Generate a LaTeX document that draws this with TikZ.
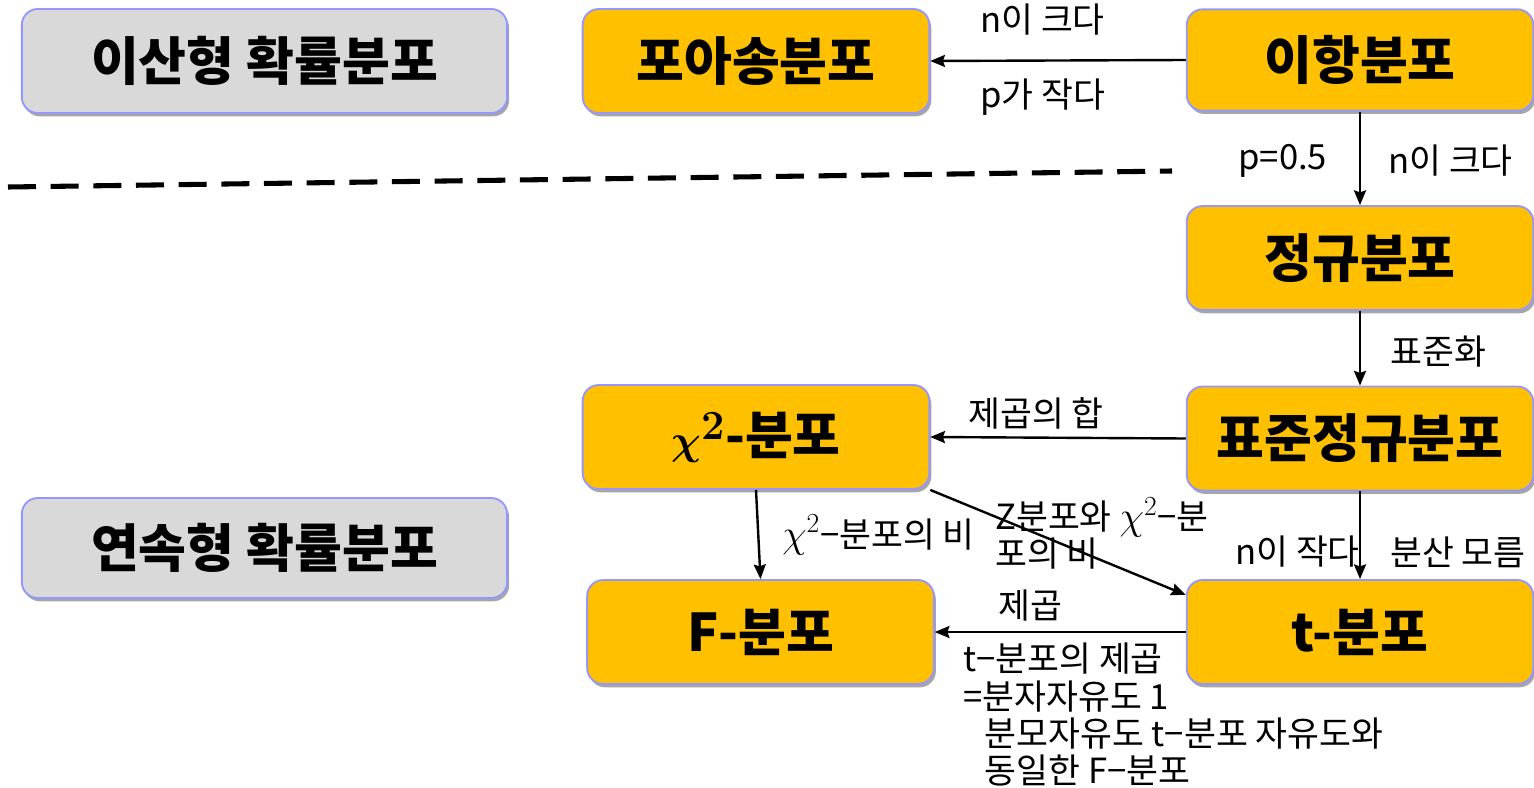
\documentclass[tikz,border=0pt]{standalone}
\usepackage{fontspec}
\usepackage{bm}
\setmainfont{Noto Sans CJK KR}
\usetikzlibrary{arrows.meta,shadows,calc}
\definecolor{boxorange}{RGB}{255,192,0}
\definecolor{boxgray}{RGB}{217,217,217}
\definecolor{boxedge}{RGB}{150,150,255}
\newcommand{\chisq}{\scalebox{1.2}{$\chi^{2}$}}
\newcommand{\chisqb}{\scalebox{1.25}{$\bm{\chi^{2}}$}}
\tikzset{
  basebox/.style={draw=boxedge, line width=1.4pt, rounded corners=12pt,
    minimum width=260pt, minimum height=78pt, inner sep=0pt,
    font=\fontsize{39}{44}\selectfont\bfseries,
    drop shadow={shadow xshift=1.5pt, shadow yshift=-2.5pt, opacity=0.35, fill=black}},
  obox/.style={basebox, fill=boxorange},
  gbox/.style={basebox, fill=boxgray, minimum width=364pt},
  lbl/.style={font=\fontsize{26}{28}\selectfont, inner sep=0pt, anchor=west},
  conn/.style={line width=1.8pt, -{Stealth[length=11pt,width=9pt,inset=1.5pt]}},
}
\begin{document}
\begin{tikzpicture}[x=0.75pt,y=-0.75pt]
\useasboundingbox (0,0) rectangle (1534,788);
% boxes
\node[gbox, minimum height=78pt] (disc) at (264.5,61) {이산형 확률분포};
\node[gbox, minimum height=75pt] (cont) at (264.5,548) {연속형 확률분포};
\node[obox] (pois) at (756,61) {포아송분포};
\node[obox, minimum height=76pt] (binom) at (1360,60) {이항분포};
\node[obox] (norm) at (1360,258) {정규분포};
\node[obox] (std) at (1360,438.5) {표준정규분포};
\node[obox] (chi) at (756,437) {\chisqb-분포};
\node[obox] (F) at (760.5,632) {F-분포};
\node[obox] (t) at (1360,632) {t-분포};
% dashed separator
\coordinate (dashL) at (8,187);
\coordinate (dashR) at (1172,171);
\draw[line width=3.8pt, dash pattern=on 21pt off 11pt] (dashL) -- (dashR);
% connectors
\draw[conn] (binom.west) -- (pois.east);
\draw[conn] (binom.south) -- (norm.north);
\draw[conn] (norm.south) -- (std.north);
\draw[conn] (std.west) -- (chi.east);
\draw[conn] (std.south) -- (t.north);
\draw[conn] (chi.south east) -- (t.168.5);
\draw[conn] (chi.south) -- (F.north);
\draw[conn] (t.west) -- (F.east);
% labels
\node[lbl] (l1) at (980,20) {n이 크다};
\node[lbl] (l2) at (980,97) {p가 작다};
\node[lbl] (l3) at (1238,161) {p=0.5};
\node[lbl] (l4) at (1388,161) {n이 크다};
\node[lbl] (l5) at (1390,352) {표준화};
\node[lbl] (l6) at (968,413) {제곱의 합};
\node[lbl, align=left, anchor=north west] (l7) at (995,497) {Z분포와 \chisq−분\\포의 비};
\node[lbl] (l8) at (782,535) {\chisq−분포의 비};
\node[lbl] (l9) at (1235,552) {n이 작다};
\node[lbl] (l10) at (1390,552) {분산 모름};
\node[lbl] (l11) at (998,606) {제곱};
\node[lbl, align=left, anchor=north west] (l12) at (963,643) {t−분포의 제곱\\=분자자유도 1\\\hspace*{16pt}분모자유도 t−분포 자유도와\\\hspace*{16pt}동일한 F−분포};
\end{tikzpicture}
\end{document}
